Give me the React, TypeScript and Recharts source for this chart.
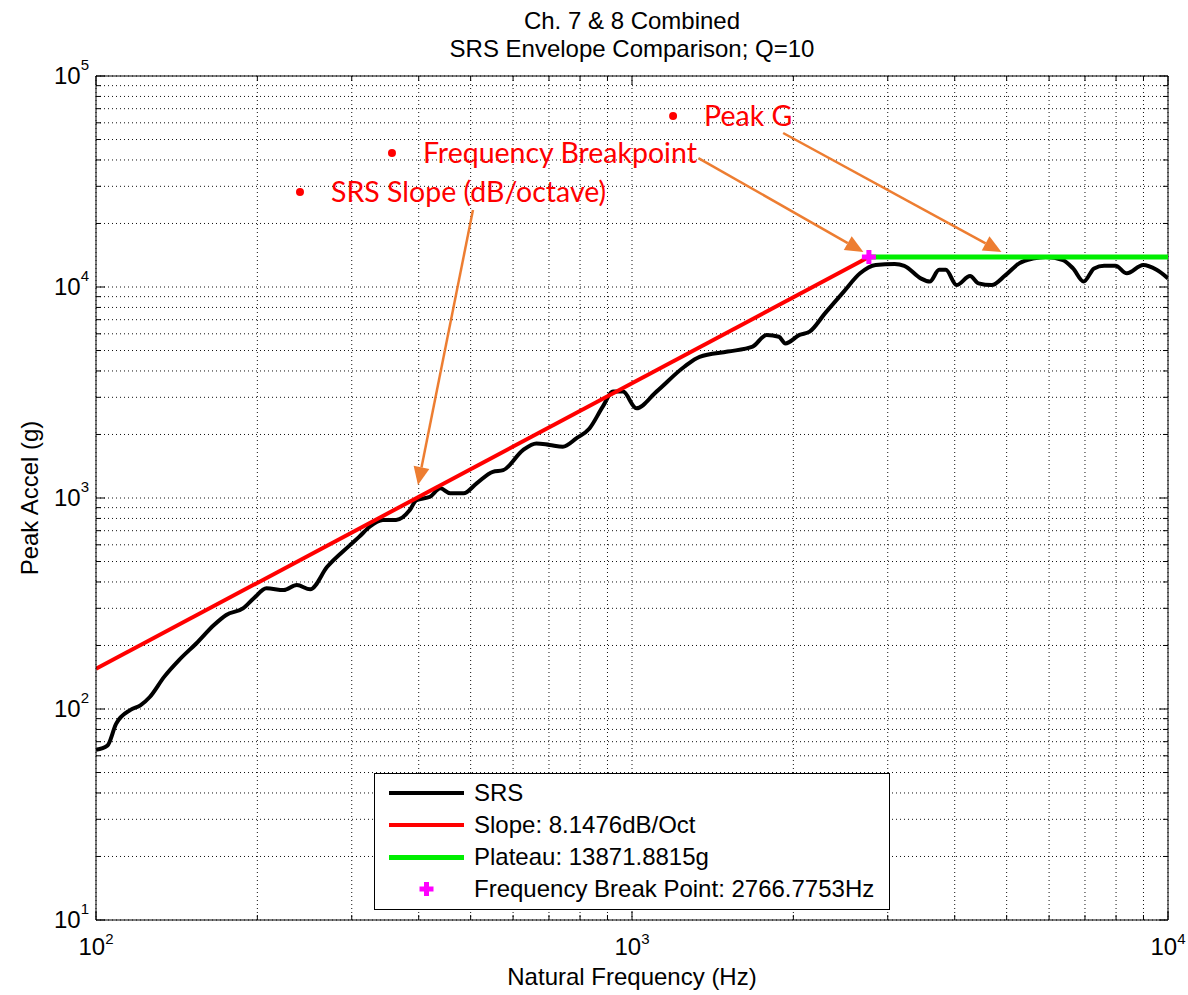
import React from "react"
import {
  ComposedChart,
  Line,
  Scatter,
  XAxis,
  YAxis,
  CartesianGrid,
  ReferenceLine,
  ReferenceDot,
  Legend,
} from "recharts"

// SRS curve (Hz, g)
const SRS_FREQ = [
  100, 105, 109, 116, 121, 126, 134, 143, 154, 166, 175, 188, 197, 208, 224, 237, 251, 270, 296, 310,
  324, 343, 363, 385, 396, 420, 439, 458, 485, 513, 550, 575, 626, 663, 702, 743, 787, 833, 882, 922,
  962, 1019, 1111, 1252, 1337, 1509, 1679, 1783, 1880, 1933, 2054, 2145, 2291, 2484, 2664, 2849, 3091,
  3221, 3457, 3594, 3741, 3850, 4031, 4273, 4430, 4687, 4970, 5275, 5593, 5920, 6370, 6650, 6960, 7280,
  7600, 7980, 8380, 8990, 9520, 10000,
]
const SRS_ACCEL = [
  64, 67, 85, 99, 104, 114, 142, 171, 205, 250, 279, 300, 335, 373, 366, 387, 369, 472, 590, 656,
  731, 787, 787, 877, 977, 1014, 1111, 1052, 1052, 1173, 1331, 1355, 1687, 1815, 1784, 1750, 1916, 2137, 2710, 3193,
  3193, 2661, 3193, 4188, 4667, 4942, 5216, 5929, 5812, 5404, 5929, 6143, 7499, 9510, 11610, 12710, 12850,
  12600, 10990, 10610, 12060, 12060, 10210, 11270, 10410, 10210, 11350, 12940, 13640, 13890, 13420, 12250, 10610, 12250,
  12600, 12600, 11610, 12710, 12060, 10990,
]

const SLOPE_FREQ = [100, 2766.7753]
const SLOPE_ACCEL = [155, 13871.8815]
const PLATEAU_FREQ = [2766.7753, 10000]
const PLATEAU_ACCEL = [13871.8815, 13871.8815]
const BREAK_FREQ = [2766.7753]
const BREAK_ACCEL = [13871.8815]

const X_TICKS = [
  100, 200, 300, 400, 500, 600, 700, 800, 900, 1000, 2000, 3000, 4000, 5000, 6000, 7000, 8000, 9000, 10000,
]
const Y_TICKS = [
  10, 20, 30, 40, 50, 60, 70, 80, 90, 100, 200, 300, 400, 500, 600, 700, 800, 900, 1000, 2000, 3000, 4000,
  5000, 6000, 7000, 8000, 9000, 10000, 20000, 30000, 40000, 50000, 60000, 70000, 80000, 90000, 100000,
]
const X_DECADES = [100, 1000, 10000]
const Y_DECADES = [10, 100, 1000, 10000, 100000]

// callouts drawn on the chart
const NOTE_TEXT = ["Peak G", "Frequency Breakpoint", "SRS Slope (dB/octave)"]
const NOTE_FREQ = [1193, 356.6, 240.2]
const NOTE_ACCEL = [64550, 43150, 28180]
const ARROW_FROM_FREQ = [1914, 1330, 505]
const ARROW_FROM_ACCEL = [53700, 40830, 23170]
const ARROW_TO_FREQ = [4889, 2702, 398.7]
const ARROW_TO_ACCEL = [14650, 14650, 1152]

const LEGEND_TEXT = [
  "SRS",
  "Slope: 8.1476dB/Oct",
  "Plateau: 13871.8815g",
  "Frequency Break Point: 2766.7753Hz",
]

const W = 1188
const H = 995
const MARGIN = { top: 76, right: 20, bottom: 25, left: 16 }
const PLOT_LEFT = 96
const PLOT_RIGHT = W - MARGIN.right
const PLOT_TOP = MARGIN.top
const PLOT_BOTTOM = 920
const FONT = "'Liberation Sans', Arial, Helvetica, sans-serif"
const ORANGE = "#ED7D31"
const RED = "#ff0000"
const GREEN = "#00ee00"
const MAGENTA = "#ff00ff"

const zip = (xs: number[], ys: number[]) => xs.map((f, i) => ({ f, g: ys[i] }))
const srsData = zip(SRS_FREQ, SRS_ACCEL)
const slopeData = zip(SLOPE_FREQ, SLOPE_ACCEL)
const plateauData = zip(PLATEAU_FREQ, PLATEAU_ACCEL)
const breakData = zip(BREAK_FREQ, BREAK_ACCEL)

const XTick = (props: any) => {
  const { x, payload } = props
  const v = payload.value
  const major = X_DECADES.includes(v)
  const len = major ? 9 : 5
  return (
    <g>
      <line x1={x} x2={x} y1={PLOT_BOTTOM} y2={PLOT_BOTTOM - len} stroke="#000" />
      <line x1={x} x2={x} y1={PLOT_TOP} y2={PLOT_TOP + len} stroke="#000" />
      {major && (
        <text x={x} y={PLOT_BOTTOM + 35} textAnchor="middle" fontFamily={FONT} fontSize={24} fill="#000">
          10
          <tspan dy={-11} fontSize={15}>
            {Math.round(Math.log10(v))}
          </tspan>
        </text>
      )}
    </g>
  )
}

const YTick = (props: any) => {
  const { y, payload } = props
  const v = payload.value
  const major = Y_DECADES.includes(v)
  const len = major ? 9 : 5
  return (
    <g>
      <line x1={PLOT_LEFT} x2={PLOT_LEFT + len} y1={y} y2={y} stroke="#000" />
      <line x1={PLOT_RIGHT} x2={PLOT_RIGHT - len} y1={y} y2={y} stroke="#000" />
      {major && (
        <text x={89} y={y + 8} textAnchor="end" fontFamily={FONT} fontSize={24} fill="#000">
          10
          <tspan dy={-14} fontSize={15}>
            {Math.round(Math.log10(v))}
          </tspan>
        </text>
      )}
    </g>
  )
}

const Arrow = (props: any) => {
  const { x1, y1, x2, y2 } = props
  const ang = Math.atan2(y2 - y1, x2 - x1)
  const len = 18
  const half = 8
  const bx = x2 - len * Math.cos(ang)
  const by = y2 - len * Math.sin(ang)
  const px = -Math.sin(ang) * half
  const py = Math.cos(ang) * half
  return (
    <g>
      <line x1={x1} y1={y1} x2={bx} y2={by} stroke={ORANGE} strokeWidth={2.5} />
      <polygon points={`${x2},${y2} ${bx + px},${by + py} ${bx - px},${by - py}`} fill={ORANGE} />
    </g>
  )
}

const Plus = (props: any) => {
  const { cx, cy } = props
  return (
    <g>
      <rect x={cx - 7} y={cy - 2.5} width={14} height={5} fill={MAGENTA} />
      <rect x={cx - 2.5} y={cy - 7} width={5} height={14} fill={MAGENTA} />
    </g>
  )
}

const LegendBox = () => {
  const swatch = [
    <div style={{ width: 75, height: 4, background: "#000" }} />,
    <div style={{ width: 75, height: 4, background: RED }} />,
    <div style={{ width: 75, height: 5, background: GREEN }} />,
    <svg width={75} height={16}>
      <rect x={30.5} y={5.5} width={14} height={5} fill={MAGENTA} />
      <rect x={35} y={1} width={5} height={14} fill={MAGENTA} />
    </svg>,
  ]
  return (
    <div
      style={{
        boxSizing: "border-box",
        width: 516,
        height: 137,
        border: "1px solid #000",
        background: "#fff",
        padding: "3px 0 0 14px",
        fontFamily: FONT,
        fontSize: 24,
        color: "#000",
      }}
    >
      {LEGEND_TEXT.map((t, i) => (
        <div key={t} style={{ display: "flex", alignItems: "center", height: 32 }}>
          <div style={{ width: 75, display: "flex", justifyContent: "center" }}>{swatch[i]}</div>
          <span style={{ marginLeft: 10, whiteSpace: "nowrap" }}>{t}</span>
        </div>
      ))}
    </div>
  )
}

export default function App() {
  return (
    <div style={{ position: "absolute", left: 0, top: 0, width: W, height: H, background: "#fff" }}>
      <div
        style={{
          position: "absolute",
          left: PLOT_LEFT,
          width: PLOT_RIGHT - PLOT_LEFT,
          top: 7,
          textAlign: "center",
          fontFamily: FONT,
          fontSize: 24,
          lineHeight: "28px",
        }}
      >
        <div>Ch. 7 &amp; 8 Combined</div>
        <div>SRS Envelope Comparison; Q=10</div>
      </div>
      <div
        style={{
          position: "absolute",
          left: PLOT_LEFT,
          width: PLOT_RIGHT - PLOT_LEFT,
          top: 963,
          textAlign: "center",
          fontFamily: FONT,
          fontSize: 24,
          lineHeight: "28px",
        }}
      >
        Natural Frequency (Hz)
      </div>
      <div
        style={{
          position: "absolute",
          left: 30,
          top: (PLOT_TOP + PLOT_BOTTOM) / 2,
          transform: "translate(-50%, -50%) rotate(-90deg)",
          whiteSpace: "nowrap",
          fontFamily: FONT,
          fontSize: 24,
          lineHeight: "28px",
        }}
      >
        Peak Accel (g)
      </div>
      <ComposedChart width={W} height={H} margin={MARGIN} style={{ position: "absolute", left: 0, top: 0 }}>
        <CartesianGrid stroke="#111" strokeDasharray="1 3" />
        <XAxis
          dataKey="f"
          type="number"
          scale="log"
          domain={[100, 10000]}
          ticks={X_TICKS}
          interval={0}
          allowDataOverflow
          height={50}
          tickLine={false}
          axisLine={{ stroke: "#000" }}
          tick={<XTick />}
        />
        <YAxis
          type="number"
          scale="log"
          domain={[10, 100000]}
          ticks={Y_TICKS}
          interval={0}
          allowDataOverflow
          width={80}
          tickLine={false}
          axisLine={{ stroke: "#000" }}
          tick={<YTick />}
        />
        <ReferenceLine y={100000} stroke="#000" />
        <ReferenceLine x={10000} stroke="#000" />
        <Line
          data={srsData}
          dataKey="g"
          type="monotone"
          stroke="#000"
          strokeWidth={4}
          dot={false}
          isAnimationActive={false}
        />
        <Line
          data={slopeData}
          dataKey="g"
          type="linear"
          stroke={RED}
          strokeWidth={4}
          dot={false}
          isAnimationActive={false}
        />
        <Line
          data={plateauData}
          dataKey="g"
          type="linear"
          stroke={GREEN}
          strokeWidth={5}
          dot={false}
          isAnimationActive={false}
        />
        <Scatter data={breakData} dataKey="g" shape={<Plus />} isAnimationActive={false} />
        {NOTE_TEXT.map((t, i) => (
          <ReferenceLine
            key={`arrow-${t}`}
            segment={[
              { x: ARROW_FROM_FREQ[i], y: ARROW_FROM_ACCEL[i] },
              { x: ARROW_TO_FREQ[i], y: ARROW_TO_ACCEL[i] },
            ]}
            shape={<Arrow />}
          />
        ))}
        {NOTE_TEXT.map((t, i) => (
          <ReferenceDot
            key={`note-${t}`}
            x={NOTE_FREQ[i]}
            y={NOTE_ACCEL[i]}
            r={4}
            fill={RED}
            stroke="none"
            label={{
              value: t,
              position: "right",
              offset: 27,
              fill: RED,
              fontSize: 28.5,
              fontFamily: "Lato, 'Open Sans', sans-serif",
            }}
          />
        ))}
        <Legend
          layout="vertical"
          align="center"
          verticalAlign="middle"
          wrapperStyle={{ left: 374, top: 773, width: 516, height: 137 }}
          content={() => <LegendBox />}
        />
      </ComposedChart>
    </div>
  )
}
